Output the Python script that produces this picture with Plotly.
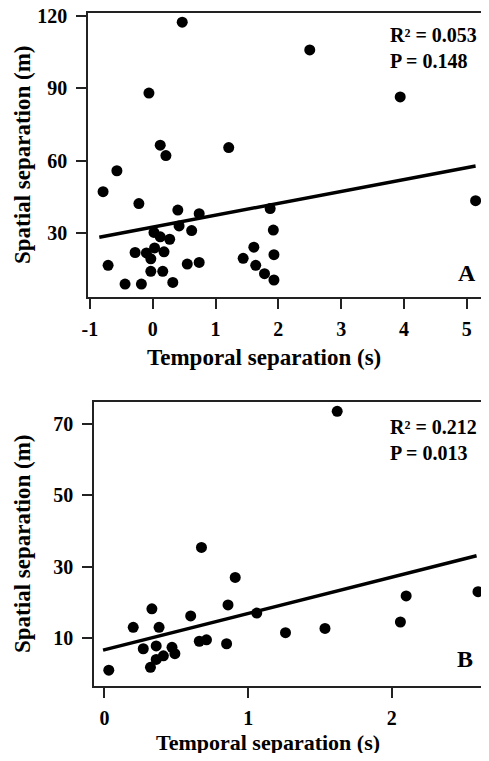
import plotly.graph_objects as go

# ====================================================
# Data
# ====================================================
# Panel A
a_temporal = [0.47, -0.06, 2.50, 3.94, 0.12, 0.21, 1.21, -0.57, -0.79, 5.14,
              -0.22, 0.40, 0.74, 1.87, 0.42, 0.62, 1.92, 0.02, 0.12, 0.27,
              1.61, -0.28, -0.10, 0.03, -0.03, 0.18, 1.93, 1.44, -0.71, 0.55,
              0.74, 1.64, -0.03, 0.16, 1.78, -0.44, -0.18, 0.32, 1.93]
a_spatial = [117.4, 88.0, 105.9, 86.4, 66.4, 62.1, 65.4, 55.8, 47.1, 43.4,
             42.2, 39.5, 38.0, 40.1, 32.9, 31.0, 31.2, 30.2, 28.4, 27.4,
             24.1, 21.9, 21.7, 23.8, 19.3, 22.2, 21.0, 19.5, 16.6, 17.1,
             17.8, 16.6, 14.1, 14.1, 13.1, 8.8, 8.8, 9.5, 10.5]
a_fit_x = [-0.85, 5.14]
a_fit_y = [28.2, 57.8]
a_stats = "R² = 0.053<br>P = 0.148"

# Panel B
b_temporal = [0.03, 0.20, 0.27, 0.32, 0.33, 0.36, 0.36, 0.38, 0.41, 0.47,
              0.49, 0.60, 0.66, 0.71, 0.675, 0.85, 0.86, 0.91, 1.06, 1.26,
              1.535, 1.62, 2.06, 2.10, 2.60]
b_spatial = [1.0, 13.0, 7.0, 1.8, 18.2, 7.8, 4.0, 13.0, 5.0, 7.4,
             5.6, 16.2, 9.1, 9.5, 35.4, 8.4, 19.3, 27.0, 17.0, 11.5,
             12.7, 73.6, 14.5, 21.8, 23.0]
b_fit_x = [-0.01, 2.59]
b_fit_y = [6.6, 33.1]
b_stats = "R² = 0.212<br>P = 0.013"

a_xticks = [-1, 0, 1, 2, 3, 4, 5]
a_xlabels = ["-1", "0", "1", "2", "3", "4", "5"]
a_yticks = [30, 60, 90, 120]
b_xticks = [0, 1, 2]
b_yticks = [10, 30, 50, 70]

# ====================================================
# Figure
# ====================================================
# page body has an 8px margin, so the figure is a bit smaller than the window
OFF = 8
W, H = 489 - 2 * OFF, 761 - 2 * OFF


def fx(px):
    return (px - OFF) / W


def fy(py):
    return 1 - (py - OFF) / H


SERIF = "Liberation Serif"
dot = dict(color="black", size=11)
fit = dict(color="black", width=3.5)

fig = go.Figure()
fig.add_trace(go.Scatter(x=a_temporal, y=a_spatial, mode="markers", marker=dot,
                         xaxis="x", yaxis="y"))
fig.add_trace(go.Scatter(x=a_fit_x, y=a_fit_y, mode="lines", line=fit,
                         xaxis="x", yaxis="y"))
fig.add_trace(go.Scatter(x=b_temporal, y=b_spatial, mode="markers", marker=dot,
                         xaxis="x2", yaxis="y2"))
fig.add_trace(go.Scatter(x=b_fit_x, y=b_fit_y, mode="lines", line=fit,
                         xaxis="x2", yaxis="y2"))

tickfont = dict(family=SERIF, size=20, color="black", weight="bold")
common = dict(showgrid=False, zeroline=False, showline=True, linecolor="#222",
              linewidth=1.5, ticks="outside", ticklen=10, tickwidth=1.5,
              tickcolor="#222", tickfont=tickfont, automargin=False,
              ticklabeloverflow="allow")

fig.update_layout(
    template="none",
    width=W, height=H,
    margin=dict(l=0, r=0, t=0, b=0, pad=0),
    paper_bgcolor="white", plot_bgcolor="white",
    showlegend=False,
    xaxis=dict(common, domain=[fx(88), 1], range=[-1.03, 5.226],
               tickvals=a_xticks, ticktext=a_xlabels, ticklabelstandoff=3,
               mirror=True, anchor="y"),
    yaxis=dict(common, domain=[fy(297), fy(13)], range=[3.45, 121.2],
               tickvals=a_yticks, ticklabelstandoff=5, anchor="x"),
    xaxis2=dict(common, domain=[fx(94), 1], range=[-0.073, 2.621],
                tickvals=b_xticks, ticklabelstandoff=3, mirror=True,
                anchor="y2"),
    yaxis2=dict(common, domain=[fy(686), fy(402)], range=[-3.45, 76.2],
                tickvals=b_yticks, ticklabelstandoff=5, anchor="x2"),
)

title_font = dict(family=SERIF, size=23, color="black", weight="bold")
stat_font = dict(family=SERIF, size=20, color="black", weight="bold")
letter_font = dict(family=SERIF, size=24, color="black", weight="bold")

annotations = [
    # axis titles
    dict(text="Temporal separation (s)", x=fx(264), y=fy(357), font=title_font),
    dict(text="Spatial separation (m)", x=fx(22), y=fy(155),
         textangle=-90, font=title_font),
    dict(text="Temporal separation (s)", x=fx(268), y=fy(742),
         font=dict(title_font, size=22)),
    dict(text="Spatial separation (m)", x=fx(22), y=fy(544),
         textangle=-90, font=title_font),
    # stats
    dict(text=a_stats, x=fx(388), y=fy(48), xanchor="left", align="left",
         font=stat_font),
    dict(text=b_stats, x=fx(388), y=fy(440), xanchor="left", align="left",
         font=stat_font),
    # panel letters
    dict(text="A", x=fx(467), y=fy(273), font=letter_font),
    dict(text="B", x=fx(465), y=fy(659), font=letter_font),
]
for a in annotations:
    a.update(xref="paper", yref="paper", showarrow=False)
    a.setdefault("xanchor", "center")
    a.setdefault("yanchor", "middle")
fig.update_layout(annotations=annotations)

fig.write_html("out.html")
